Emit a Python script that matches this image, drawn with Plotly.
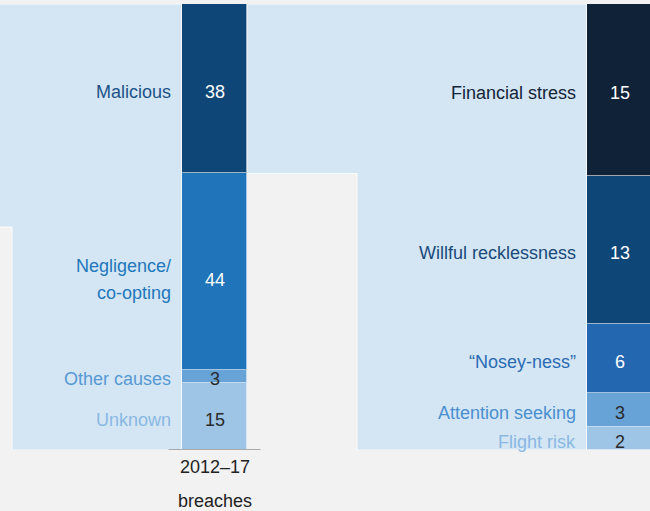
import plotly.graph_objects as go

# ---- data (top to bottom as shown) ----
left_labels = ["Malicious", "Negligence/<br>co-opting", "Other causes", "Unknown"]
left_values = [38, 44, 3, 15]
right_labels = ["Financial stress", "Willful recklessness", "\u201cNosey-ness\u201d",
                "Attention seeking", "Flight risk"]
right_values = [15, 13, 6, 3, 2]
x_label = ["2012\u201317", "breaches"]

# ---- styles ----
left_colors = ["#0e4777", "#1f74ba", "#67a3d7", "#9ec4e6"]
left_text_colors = ["#1c5288", "#2277bc", "#5799d3", "#8ab8e2"]
left_num_colors = ["white", "white", "#2a2a2a", "#2a2a2a"]
right_colors = ["#0f2237", "#0e4777", "#2467b1", "#67a3d7", "#9ec4e6"]
right_text_colors = ["#13243a", "#1a4a7a", "#2a6bb3", "#4a8fcf", "#8ab8e2"]
right_num_colors = ["white", "white", "white", "#2a2a2a", "#2a2a2a"]

FONT = "Liberation Sans, Arial, Helvetica, sans-serif"
FS = 18
LINE_GAP = 27
TEXT_DY = -3
BG = "#f2f2f2"
LIGHT = "#d4e6f4"

W, H = 650, 511
top_px, bottom_px = 4, 450
px_per_unit = 405.0
x0_px = 214.5
bar_w = 65 / px_per_unit
xmin = -x0_px / px_per_unit
xmax = (W - x0_px) / px_per_unit

LX, RX = 0, 1
left_total = sum(left_values)
right_total = sum(right_values)

fig = go.Figure()

# stacked bars: plotly stacks from bottom, so reverse
for lab, v, c in reversed(list(zip(left_labels, left_values, left_colors))):
    fig.add_trace(go.Bar(x=[LX], y=[v], width=bar_w, marker=dict(color=c, line=dict(color="rgba(255,255,255,0.6)", width=1)),
                         name=lab, yaxis="y", hoverinfo="skip"))
for lab, v, c in reversed(list(zip(right_labels, right_values, right_colors))):
    fig.add_trace(go.Bar(x=[RX], y=[v], width=bar_w, marker=dict(color=c, line=dict(color="rgba(255,255,255,0.6)", width=1)),
                         name=lab, yaxis="y2", hoverinfo="skip"))

annotations = []

def add_stack_labels(xc, labels, values, tcolors, ncolors, total, yref):
    top = total
    for lab, v, tc, nc in zip(labels, values, tcolors, ncolors):
        mid = top - v / 2
        top -= v
        lines = lab.split("<br>")
        n = len(lines)
        extra = 5 if n > 1 else 0
        for k, ln in enumerate(lines):
            off = ((n - 1) / 2 - k) * LINE_GAP
            annotations.append(dict(x=xc - bar_w / 2, y=mid, xref="x", yref=yref, text=ln,
                                    showarrow=False, xanchor="right", yanchor="middle", xshift=-9,
                                    yshift=TEXT_DY + off - extra,
                                    align="right", font=dict(family=FONT, size=FS, color=tc)))
        annotations.append(dict(x=xc, y=mid, xref="x", yref=yref, text=str(v),
                                showarrow=False, xanchor="center", yanchor="middle",
                                yshift=TEXT_DY - extra,
                                font=dict(family=FONT, size=FS, color=nc)))

add_stack_labels(LX, left_labels, left_values, left_text_colors, left_num_colors, left_total, "y")
add_stack_labels(RX, right_labels, right_values, right_text_colors, right_num_colors, right_total, "y2")

for i, t in enumerate(x_label):
    annotations.append(dict(x=LX, y=0, xref="x", yref="paper", text=t, showarrow=False,
                            xanchor="center", yanchor="middle", yshift=-17 - 34 * i,
                            font=dict(family=FONT, size=FS, color="#222222")))

# background connector areas
xb_l = LX - bar_w / 2
xb_r = LX + bar_w / 2
xr_l = RX - bar_w / 2
x12 = (12 - x0_px) / px_per_unit
x357 = (357 - x0_px) / px_per_unit
mal_bottom = left_total - left_values[0]
half = left_total / 2

path_left = (f"M {xmin-0.1},{left_total} L {xb_l},{left_total} L {xb_l},0 L {x12},0 "
             f"L {x12},{half} L {xmin-0.1},{half} Z")
path_mid = (f"M {xb_r},{left_total} L {xr_l},{left_total} L {xr_l},0 L {x357},0 "
            f"L {x357},{mal_bottom} L {xb_r},{mal_bottom} Z")
shapes = [
    dict(type="path", path=path_left, xref="x", yref="y", fillcolor=LIGHT,
         line=dict(color="rgba(255,255,255,0.8)", width=1), layer="below"),
    dict(type="path", path=path_mid, xref="x", yref="y", fillcolor=LIGHT,
         line=dict(color="rgba(255,255,255,0.8)", width=1), layer="below"),
    dict(type="line", x0=LX - 46 / px_per_unit, x1=LX + 46 / px_per_unit, y0=0, y1=0,
         xref="x", yref="y", line=dict(color="#aaaaaa", width=2), layer="above"),
]

fig.update_layout(
    width=W, height=H,
    margin=dict(l=0, r=0, t=top_px, b=H - bottom_px),
    paper_bgcolor=BG, plot_bgcolor=BG,
    barmode="stack", bargap=0, showlegend=False,
    xaxis=dict(range=[xmin, xmax], visible=False, fixedrange=True),
    yaxis=dict(range=[0, left_total], visible=False, fixedrange=True),
    yaxis2=dict(range=[0, right_total], visible=False, overlaying="y", fixedrange=True),
    shapes=shapes, annotations=annotations,
)

fig.write_html(
    "out.html",
    config={"displayModeBar": False},
    post_script="document.body.style.margin='0';document.body.style.padding='0';"
                "document.body.style.background='#f2f2f2';document.body.style.overflow='hidden';",
)
